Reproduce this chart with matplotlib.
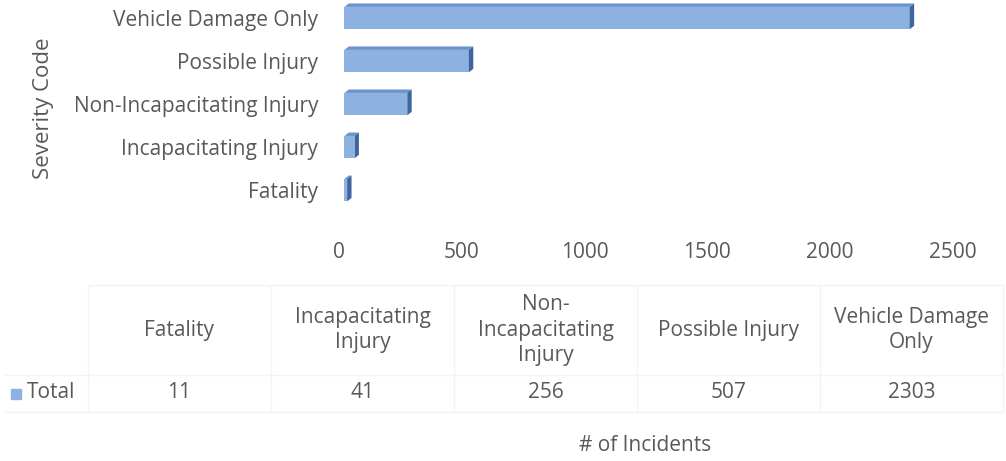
import numpy as np
import matplotlib.pyplot as plt
from matplotlib.patches import Polygon

categories = ['Fatality', 'Incapacitating Injury', 'Non-Incapacitating Injury',
              'Possible Injury', 'Vehicle Damage Only']
header_labels = ['Fatality', 'Incapacitating\nInjury', 'Non-\nIncapacitating\nInjury',
                 'Possible Injury', 'Vehicle Damage\nOnly']
totals = [11, 41, 256, 507, 2303]
xticks = [0, 500, 1000, 1500, 2000, 2500]

plt.rcParams['font.family'] = ['Open Sans', 'DejaVu Sans']
txt = '#595959'
fs = 15

fig = plt.figure(figsize=(10.06, 4.61), dpi=100)
ax = fig.add_axes([0.337, 0.5315, 0.610, 0.4685])

front = '#8db2e2'
top = '#6b94cf'
side = '#3f659f'
h = 0.52
dx = 18   # depth in data units (x)
dy = 0.08  # depth in data units (y)
x0 = 22   # bars sit a little right of the 0 label, like the 3D floor

ypos = np.arange(len(categories))
ax.barh(ypos, totals, height=h, left=x0, color=front, edgecolor='none', zorder=2)
for y, v in zip(ypos, totals):
    v = v + x0
    # top face
    ax.add_patch(Polygon([[x0, y + h/2], [v, y + h/2], [v + dx, y + h/2 + dy], [x0 + dx, y + h/2 + dy]],
                         closed=True, color=top, lw=0, zorder=2))
    # right face
    ax.add_patch(Polygon([[v, y - h/2], [v + dx, y - h/2 + dy], [v + dx, y + h/2 + dy], [v, y + h/2]],
                         closed=True, color=side, lw=0, zorder=2))

ax.set_xlim(0, 2500)
ax.set_ylim(-0.6, 4.42)
ax.set_xticks(xticks)
ax.set_yticks(ypos)
ax.set_yticklabels(categories)
ax.tick_params(axis='both', length=0, labelsize=fs, colors=txt)
ax.tick_params(axis='x', pad=19)
ax.tick_params(axis='y', pad=15)
for s in ax.spines.values():
    s.set_visible(False)
ax.set_ylabel('Severity Code', fontsize=16, color=txt, labelpad=14)

# data table below the chart
W, H = 1006, 461
col_left = 88
col_w = 183
hdr_y = 330
row_y = 393
grid = '#f4f4f4'
for i in range(len(categories) + 1):
    x = col_left + i * col_w
    fig.add_artist(plt.Line2D([x / W, x / W], [1 - 285 / H, 1 - 412 / H], color=grid, lw=1))
fig.add_artist(plt.Line2D([col_left / W, (col_left + 5 * col_w) / W], [1 - 285 / H] * 2, color=grid, lw=1))
fig.add_artist(plt.Line2D([0.005, (col_left + 5 * col_w) / W], [1 - 375 / H] * 2, color=grid, lw=1))
fig.add_artist(plt.Line2D([0.005, (col_left + 5 * col_w) / W], [1 - 412 / H] * 2, color=grid, lw=1))

for i, (lab, v) in enumerate(zip(header_labels, totals)):
    cx = (col_left + (i + 0.5) * col_w) / W
    fig.text(cx, 1 - hdr_y / H, lab, ha='center', va='center', fontsize=fs,
             color=txt, linespacing=1.3)
    fig.text(cx, 1 - row_y / H, str(v), ha='center', va='center', fontsize=fs, color=txt)

fig.patches.append(plt.Rectangle((11 / W, 1 - 399 / H), 10 / W, 10 / H, transform=fig.transFigure,
                                 color=front, figure=fig))
fig.text(27 / W, 1 - row_y / H, 'Total', ha='left', va='center', fontsize=fs, color=txt)

fig.text(645 / W, 1 - 445 / H, '# of Incidents', ha='center', va='center', fontsize=15, color=txt)

fig.savefig('out.png', dpi=100, facecolor='white')
